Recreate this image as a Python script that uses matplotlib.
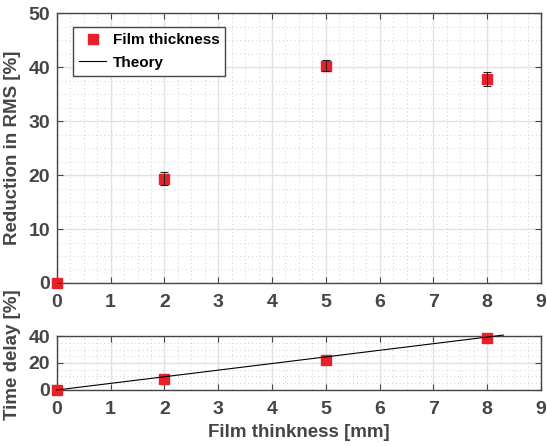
import matplotlib.pyplot as plt
from matplotlib.ticker import AutoMinorLocator

plt.rcParams['font.family'] = ['Liberation Sans', 'DejaVu Sans']
plt.rcParams['font.weight'] = 'bold'

# data
thick = [0, 2, 5, 8]
rms_red = [0, 19.3, 40.3, 37.8]
rms_err = [0, 1.2, 1.0, 1.3]
delay = [0, 8.5, 22.0, 38.5]
theory_x = [0, 8.3]
theory_y = [0, 40.7]

grey = '#454545'
red = '#e8202a'

fig = plt.figure(figsize=(5.47, 4.46), dpi=100)
ax1 = fig.add_axes([0.104, 0.3655, 0.885, 0.605])
ax2 = fig.add_axes([0.104, 0.1256, 0.885, 0.121])


def style(ax):
    ax.set_xlim(0, 9)
    ax.set_xticks(range(10))
    ax.xaxis.set_minor_locator(AutoMinorLocator(4))
    ax.yaxis.set_minor_locator(AutoMinorLocator(4))
    ax.grid(True, which='major', color='#e2e2e2', lw=1)
    ax.grid(True, which='minor', color='#cfcfcf', lw=0.7, ls=(0, (1, 3)))
    ax.set_axisbelow(True)
    for s in ax.spines.values():
        s.set_color(grey)
        s.set_linewidth(1.0)
    ax.tick_params(which='both', direction='in', colors=grey, labelsize=14,
                   top=True, right=True, length=4)
    ax.tick_params(axis='x', pad=8)
    ax.tick_params(axis='y', pad=5)
    ax.tick_params(which='minor', length=0)
    for lab in ax.get_xticklabels() + ax.get_yticklabels():
        lab.set_fontweight('bold')


ax1.plot(thick, rms_red, 's', color=red, ms=7, label='Film thickness',
         zorder=3, clip_on=False)
ax1.errorbar(thick, rms_red, yerr=rms_err, fmt='none', ecolor='#222222',
             elinewidth=0.8, capsize=3, capthick=0.8, zorder=4)
ax1.plot([], [], color='black', lw=0.8, label='Theory')
ax1.set_ylim(0, 50)
ax1.set_yticks([0, 10, 20, 30, 40, 50])
style(ax1)
ax1.set_ylabel('Reduction in RMS [%]', fontsize=13.5, fontweight='bold', color=grey)
ax1.yaxis.set_label_coords(-0.075, 0.5)
leg = ax1.legend(loc='upper left', bbox_to_anchor=(0.033, 0.948), fontsize=11,
                 frameon=True, fancybox=False, edgecolor=grey, framealpha=1,
                 borderpad=0.4, borderaxespad=0, handlelength=1.8,
                 handletextpad=0.4, labelspacing=0.55)
leg.get_frame().set_linewidth(1.0)
for t in leg.get_texts():
    t.set_fontweight('bold')
    t.set_color('black')

ax2.plot(theory_x, theory_y, color='black', lw=0.8, zorder=4, clip_on=False)
ax2.plot(thick, delay, 's', color=red, ms=7, zorder=3, clip_on=False)
ax2.set_ylim(0, 40)
ax2.set_yticks([0, 20, 40])
style(ax2)
ax2.set_ylabel('Time delay [%]', fontsize=13.5, fontweight='bold', color=grey)
ax2.yaxis.set_label_coords(-0.075, 0.65)
ax2.set_xlabel('Film thinkness [mm]', fontsize=13.5, fontweight='bold', color=grey)

fig.savefig('out.png', dpi=100)
